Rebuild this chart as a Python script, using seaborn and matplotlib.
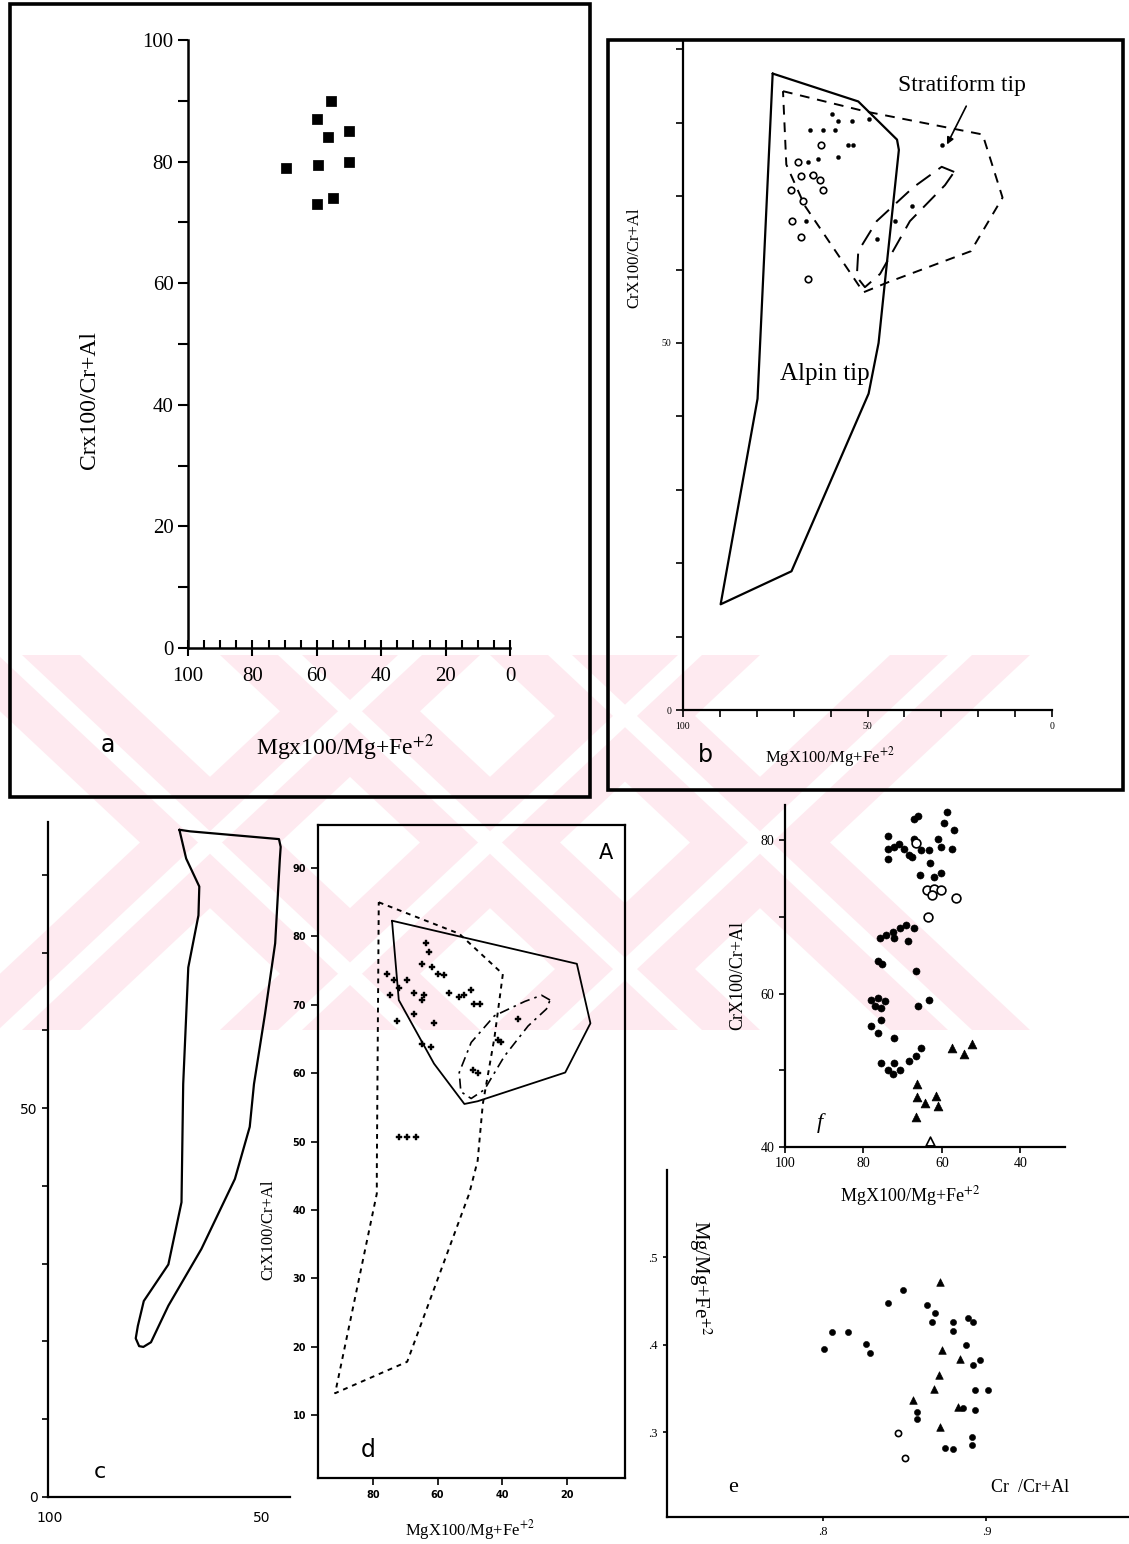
import numpy as np
import matplotlib.pyplot as plt
import seaborn as sns
from matplotlib.patches import Rectangle, Polygon

# ---------------- data ----------------
# a : chromite points
a_mg = [55.7, 60.0, 56.5, 50.0, 69.5, 59.5, 50.0, 60.0, 55.0]
a_cr = [90.0, 87.0, 84.0, 85.0, 79.0, 79.5, 80.0, 73.0, 74.0]

# b : fields (Alpin / Stratiform) and points
b_alpin_mg = [75.7, 52.5, 42.0, 41.5, 44.7, 47.0, 49.7, 70.6, 89.8, 79.8, 75.7]
b_alpin_cr = [86.7, 82.9, 77.7, 76.3, 61.1, 50.0, 43.1, 18.9, 14.4, 42.4, 86.7]
b_strat_mg = [72.9, 50.2, 18.8, 13.4, 22.0, 44.3, 51.1, 67.0, 72.0, 72.9]
b_strat_cr = [84.3, 81.5, 78.4, 69.8, 62.5, 58.3, 56.9, 68.7, 74.3, 84.3]
b_ell_mg = [26.5, 29.9, 37.6, 47.5, 52.5, 52.9, 50.7, 46.6, 38.5, 29.0, 26.5]
b_ell_cr = [73.3, 74.0, 71.2, 66.6, 62.5, 59.0, 57.6, 59.4, 66.6, 71.5, 73.3]
b_dot_mg = [59.7, 57.9, 54.3, 49.7, 65.7, 62.0, 58.8, 55.2, 53.8, 57.9, 63.4, 66.1,
            65.2, 66.6, 29.7, 37.9, 42.5, 47.5]
b_dot_cr = [81.2, 80.2, 80.2, 80.5, 79.0, 79.0, 79.0, 77.0, 77.0, 75.3, 75.0, 74.6,
            72.9, 66.6, 77.0, 68.7, 66.6, 64.2]
b_circ_mg = [62.6, 68.8, 68.1, 64.7, 62.9, 62.0, 70.7, 67.5, 70.5, 68.1, 66.1]
b_circ_cr = [77.0, 74.6, 72.7, 72.9, 72.2, 70.8, 70.8, 69.4, 66.6, 64.4, 58.7]

# c : outline of the field
c_mg = [69.5, 67.0, 46.0, 45.6, 45.8, 46.9, 49.3, 51.9, 52.9, 56.4, 64.3, 72.1, 76.2,
        78.0, 79.0, 79.8, 79.3, 77.9, 72.1, 69.0, 68.6, 67.4, 65.0, 64.8, 67.9, 69.5]
c_cr = [85.8, 85.6, 84.6, 83.6, 82.0, 71.2, 62.1, 53.1, 47.6, 40.9, 31.9, 24.6, 19.9,
        19.3, 19.4, 20.4, 22.0, 25.2, 29.9, 37.9, 53.1, 68.1, 74.8, 78.5, 82.1, 85.8]

# d : three fields and points
d_dash_mg = [78.2, 53.3, 39.8, 42.4, 46.0, 47.6, 50.2, 69.4, 91.7, 78.8, 78.8, 78.2]
d_dash_cr = [85.0, 80.4, 74.5, 65.2, 55.5, 47.2, 42.4, 17.8, 13.2, 42.4, 45.8, 85.0]
d_solid_mg = [74.1, 16.9, 12.7, 20.5, 47.6, 51.7, 61.1, 72.0, 74.1]
d_solid_cr = [82.3, 76.0, 67.3, 60.1, 55.9, 55.5, 61.4, 70.7, 82.3]
d_ell_mg = [25.2, 27.8, 33.0, 42.4, 49.6, 53.3, 52.8, 49.6, 45.5, 39.3, 32.0, 26.3, 25.2]
d_ell_cr = [70.7, 71.4, 70.5, 68.4, 64.5, 60.1, 57.3, 56.3, 57.6, 62.5, 66.9, 69.4, 70.7]
d_pt_mg = [63.7, 62.6, 64.7, 61.6, 60.0, 58.0, 64.2, 64.7, 67.3, 69.4, 72.0, 74.6,
           73.6, 75.6, 56.4, 53.3, 51.7, 49.6, 48.6, 47.0, 72.5, 67.3, 61.1, 64.7,
           62.1, 35.1, 41.3, 40.3, 49.1, 47.6, 72.0, 69.4, 66.8]
d_pt_cr = [79.1, 77.7, 76.0, 75.6, 74.5, 74.3, 71.5, 70.7, 71.8, 73.6, 72.5, 71.5,
           73.6, 74.5, 71.8, 71.1, 71.5, 72.2, 70.1, 70.1, 67.7, 68.7, 67.3, 64.2,
           63.9, 68.0, 64.9, 64.5, 60.4, 60.1, 50.6, 50.6, 50.6]

# f : dots, circles, triangles
f_dot_mg = [67.0, 66.2, 58.6, 59.4, 56.9, 61.1, 72.1, 70.9, 69.6, 68.3, 67.0, 65.3,
            63.2, 60.3, 57.3, 73.8, 73.8, 73.8, 67.5, 63.0, 65.5, 62.0, 60.3,
            75.9, 74.2, 72.5, 70.8, 69.1, 68.7, 67.0, 72.1, 76.3, 75.2, 66.6,
            78.0, 76.3, 74.6, 77.0, 75.5, 63.2, 66.0, 78.0, 75.5, 76.3, 72.1,
            75.5, 73.8, 72.1, 72.5, 70.8, 68.3, 66.6, 65.3]
f_dot_cr = [82.8, 83.2, 83.7, 82.2, 81.3, 80.2, 79.1, 79.5, 78.9, 78.1, 80.2, 78.7,
            78.7, 79.1, 78.9, 80.6, 78.9, 77.6, 77.8, 77.0, 75.5, 75.2, 75.7,
            67.2, 67.7, 68.1, 68.5, 69.0, 66.8, 68.5, 67.2, 64.2, 63.8, 63.0,
            59.2, 59.4, 59.0, 58.4, 58.1, 59.2, 58.4, 55.8, 56.6, 54.9, 54.2,
            51.0, 50.1, 51.0, 49.5, 50.1, 51.2, 51.9, 52.9]
f_circ_mg = [66.6, 63.7, 62.0, 60.3, 62.4, 56.5, 63.5]
f_circ_cr = [79.6, 73.5, 73.7, 73.5, 72.9, 72.5, 70.0]
f_tri_mg = [57.3, 54.4, 52.2, 66.4, 66.4, 64.3, 61.4, 61.1, 66.6]
f_tri_cr = [52.9, 52.1, 53.4, 48.2, 46.5, 45.8, 46.7, 45.4, 43.9]
f_otri_mg = [63.1]
f_otri_cr = [40.8]

# e : Cr/Cr+Al vs Mg/Mg+Fe+2
e_dot_cr = [0.8492, 0.8396, 0.8634, 0.8685, 0.8665, 0.8793, 0.8797, 0.8888, 0.8919,
            0.8055, 0.8157, 0.8010, 0.8264, 0.8289, 0.8878, 0.8919, 0.8959, 0.8929,
            0.9010, 0.8929, 0.8858, 0.8573, 0.8573, 0.8746, 0.8797, 0.8909, 0.8909]
e_dot_mg = [0.4629, 0.4476, 0.4457, 0.4362, 0.4267, 0.4267, 0.4164, 0.4305, 0.4267,
            0.4152, 0.4152, 0.3950, 0.4008, 0.3912, 0.4000, 0.3771, 0.3829, 0.3486,
            0.3486, 0.3257, 0.3276, 0.3238, 0.3150, 0.2819, 0.2808, 0.2952, 0.2857]
e_tri_cr = [0.8715, 0.8726, 0.8841, 0.8709, 0.8679, 0.8549, 0.8827, 0.8715]
e_tri_mg = [0.4724, 0.3943, 0.3836, 0.3657, 0.3497, 0.3371, 0.3295, 0.3059]
e_circ_cr = [0.8461, 0.8502]
e_circ_mg = [0.2990, 0.2709]

# ---------------- figure ----------------
sns.set_theme(style="ticks")
plt.rcParams['font.family'] = ['Liberation Serif', 'DejaVu Serif']
plt.rcParams['mathtext.fontset'] = 'stix'
for k in ['axes.edgecolor', 'xtick.color', 'ytick.color', 'text.color', 'axes.labelcolor']:
    plt.rcParams[k] = 'black'

W, H = 1129, 1544
fig = plt.figure(figsize=(W / 100, H / 100), dpi=100)
fig.patch.set_facecolor('white')


def rect(l, t, r, b):
    return [l / W, 1 - b / H, (r - l) / W, (b - t) / H]


def ftext(x, y, s, **kw):
    kw.setdefault('ha', 'center')
    kw.setdefault('va', 'center')
    fig.text(x / W, 1 - y / H, s, **kw)


def fig_poly(pts, color, z=-5):
    p = Polygon([(x / W, 1 - y / H) for x, y in pts], closed=True, fc=color,
                ec='none', transform=fig.transFigure, zorder=z)
    fig.add_artist(p)


# pale pink watermark of the scan (background decoration), striped X shapes
pink = '#feeaf0'
top, bot = 655, 1030
for cx in [210, 490, 760]:
    for sgn in (1, -1):
        x0, x1 = cx - sgn * 200, cx + sgn * 200
        fig_poly([(x0 - 70, top), (x0 + 70, top), (x1 + 70, bot), (x1 - 70, bot)], pink, -6)
        fig_poly([(x0 - 12, top), (x0 + 12, top), (x1 + 12, bot), (x1 - 12, bot)], 'white', -5)

# frames of panels a and b
for l, t, r, b in [(10, 4, 590, 797), (608, 40, 1123, 790)]:
    fig.add_artist(Rectangle((l / W, 1 - b / H), (r - l) / W, (b - t) / H, fill=False,
                             lw=2.6, ec='black', transform=fig.transFigure, zorder=5))


def clean(ax):
    ax.set_facecolor('none')
    sns.despine(ax=ax)
    ax.set_xlabel('')
    ax.set_ylabel('')


# ---------------- panel a ----------------
axa = fig.add_axes(rect(188, 40, 510, 648))
sns.scatterplot(x=a_mg, y=a_cr, marker='s', s=45, color='black', edgecolor='black', ax=axa)
axa.set_xlim(100, 0)
axa.set_ylim(0, 100)
clean(axa)
axa.set_yticks(range(0, 101, 20))
axa.set_yticks(range(0, 101, 10), minor=True)
axa.set_xticks(range(0, 101, 20))
axa.set_xticks(range(0, 101, 5), minor=True)
axa.tick_params(axis='y', which='both', direction='out', length=7, width=1.5, labelsize=15, left=True)
axa.tick_params(axis='x', which='major', direction='inout', length=12, width=1.5, labelsize=15, pad=8)
axa.tick_params(axis='x', which='minor', direction='in', length=6, width=1.5)
for s in axa.spines.values():
    s.set_linewidth(1.8)
ftext(90, 400, 'Crx100/Cr+Al', rotation=90, fontsize=17)
ftext(345, 748, r'Mgx100/Mg+Fe$^{+2}$', fontsize=17)
ftext(108, 745, 'a', fontsize=17, family='DejaVu Sans')

# ---------------- panel b ----------------
axb = fig.add_axes(rect(683, 42, 1052, 710))
axb.plot(b_alpin_mg, b_alpin_cr, color='black', lw=1.6)
axb.plot(b_strat_mg, b_strat_cr, color='black', lw=1.4, dashes=(5, 4))
axb.plot(b_ell_mg, b_ell_cr, color='black', lw=1.4, dashes=(9, 5))
sns.scatterplot(x=b_dot_mg, y=b_dot_cr, marker='o', s=9, color='black', edgecolor='black', ax=axb)
sns.scatterplot(x=b_circ_mg, y=b_circ_cr, marker='o', s=22, color='white', edgecolor='black',
                linewidth=1.2, ax=axb)
axb.annotate('', xy=(28.8, 76.7), xytext=(22.9, 82.6),
             arrowprops=dict(arrowstyle='-|>', color='black', lw=1.2, mutation_scale=10))
axb.set_xlim(100, 0)
axb.set_ylim(0, 91)
clean(axb)
axb.set_xticks(range(0, 101, 10))
axb.set_xticklabels(['0', '', '', '', '', '50', '', '', '', '', '100'])
axb.set_yticks(range(0, 91, 10))
axb.set_yticklabels(['0', '', '', '', '', '50', '', '', '', ''])
axb.tick_params(axis='both', direction='out', length=5, width=1.2, labelsize=7, left=True, bottom=True)
for s in axb.spines.values():
    s.set_linewidth(1.6)
ftext(962, 85, 'Stratiform tip', fontsize=17)
ftext(825, 374, 'Alpin tip', fontsize=18)
ftext(634, 258, 'CrX100/Cr+Al', rotation=90, fontsize=12)
ftext(830, 757, r'MgX100/Mg+Fe$^{+2}$', fontsize=12)
ftext(705, 755, 'b', fontsize=17, family='DejaVu Sans')

# ---------------- panel c ----------------
axc = fig.add_axes(rect(48, 822, 290, 1497))
axc.plot(c_mg, c_cr, color='black', lw=1.6)
axc.set_xlim(100.5, 43.4)
axc.set_ylim(0, 86.8)
clean(axc)
axc.set_xticks([100, 50])
axc.set_yticks(range(0, 81, 10))
axc.set_yticklabels(['0', '', '', '', '', '50', '', '', ''])
axc.tick_params(axis='y', direction='out', length=4, width=1.2, labelsize=10, left=True)
axc.tick_params(axis='x', length=0, labelsize=10, pad=10)
for s in axc.spines.values():
    s.set_linewidth(1.6)
for lab in axc.get_xticklabels() + axc.get_yticklabels():
    lab.set_family('DejaVu Sans')
ftext(100, 1472, 'c', fontsize=16, family='DejaVu Sans')

# ---------------- panel d ----------------
axd = fig.add_axes(rect(318, 825, 625, 1478))
axd.plot(d_dash_mg, d_dash_cr, color='black', lw=1.4, dashes=(2.5, 2.5))
axd.plot(d_solid_mg, d_solid_cr, color='black', lw=1.3)
axd.plot(d_ell_mg, d_ell_cr, color='black', lw=1.2, dashes=(6, 3, 1.5, 3))
sns.scatterplot(x=d_pt_mg, y=d_pt_cr, marker='P', s=14, color='black', edgecolor='black', ax=axd)
axd.set_xlim(97, 2)
axd.set_ylim(0.8, 96.3)
axd.set_facecolor('none')
axd.set_xlabel('')
axd.set_ylabel('')
axd.set_xticks([80, 60, 40, 20])
axd.set_xticklabels(['80', '60', '40', '20'])
axd.set_yticks(range(10, 91, 10))
axd.tick_params(axis='both', direction='out', length=5, width=1.2, labelsize=7, left=True, bottom=True)
for lab in axd.get_xticklabels() + axd.get_yticklabels():
    lab.set_fontweight('bold')
    lab.set_family('DejaVu Sans')
for s in axd.spines.values():
    s.set_linewidth(1.6)
ftext(606, 853, 'A', fontsize=15, family='DejaVu Sans')
ftext(368, 1450, 'd', fontsize=17, family='DejaVu Sans')
ftext(268, 1230, 'CrX100/Cr+Al', rotation=90, fontsize=12)
ftext(470, 1530, r'MgX100/Mg+Fe$^{+2}$', fontsize=12)

# ---------------- panel f ----------------
axf = fig.add_axes(rect(785, 805, 1065, 1147))
sns.scatterplot(x=f_dot_mg, y=f_dot_cr, marker='o', s=26, color='black', edgecolor='black', ax=axf)
sns.scatterplot(x=f_circ_mg, y=f_circ_cr, marker='o', s=40, color='white', edgecolor='black',
                linewidth=1.2, ax=axf)
sns.scatterplot(x=f_tri_mg, y=f_tri_cr, marker='^', s=40, color='black', edgecolor='black', ax=axf)
sns.scatterplot(x=f_otri_mg, y=f_otri_cr, marker='^', s=40, color='white', edgecolor='black',
                linewidth=1.2, ax=axf)
axf.set_xlim(100, 28.6)
axf.set_ylim(40, 84.6)
clean(axf)
axf.set_xticks([100, 80, 60, 40])
axf.set_yticks([40, 60, 80])
axf.set_yticks([50, 70], minor=True)
axf.tick_params(axis='both', which='both', direction='out', length=4, width=1.2, labelsize=10,
                left=True, bottom=True)
for s in axf.spines.values():
    s.set_linewidth(1.6)
ftext(738, 975, 'CrX100/Cr+Al', rotation=90, fontsize=13)
ftext(910, 1196, r'MgX100/Mg+Fe$^{+2}$', fontsize=13)
ftext(820, 1123, 'f', fontsize=16, style='italic')

# ---------------- panel e ----------------
axe = fig.add_axes(rect(667, 1170, 1129, 1517))
sns.scatterplot(x=e_dot_cr, y=e_dot_mg, marker='o', s=20, color='black', edgecolor='black', ax=axe)
sns.scatterplot(x=e_tri_cr, y=e_tri_mg, marker='^', s=30, color='black', edgecolor='black', ax=axe)
sns.scatterplot(x=e_circ_cr, y=e_circ_mg, marker='o', s=20, color='white', edgecolor='black',
                linewidth=1.2, ax=axe)
axe.set_xlim(0.705, 0.987)
axe.set_ylim(0.2034, 0.6)
clean(axe)
axe.set_xticks([0.8, 0.9])
axe.set_xticklabels(['.8', '.9'])
axe.set_yticks([0.3, 0.4, 0.5])
axe.set_yticklabels(['.3', '.4', '.5'])
axe.tick_params(axis='both', direction='out', length=3, width=1.2, labelsize=9, left=True, bottom=True)
for s in axe.spines.values():
    s.set_linewidth(1.6)
ftext(700, 1278, r'Mg/Mg+Fe$^{+2}$', rotation=-90, fontsize=15)
ftext(1030, 1488, 'Cr  /Cr+Al', fontsize=13)
ftext(733, 1487, 'e', fontsize=16)

fig.savefig('out.png', dpi=100, facecolor='white')
